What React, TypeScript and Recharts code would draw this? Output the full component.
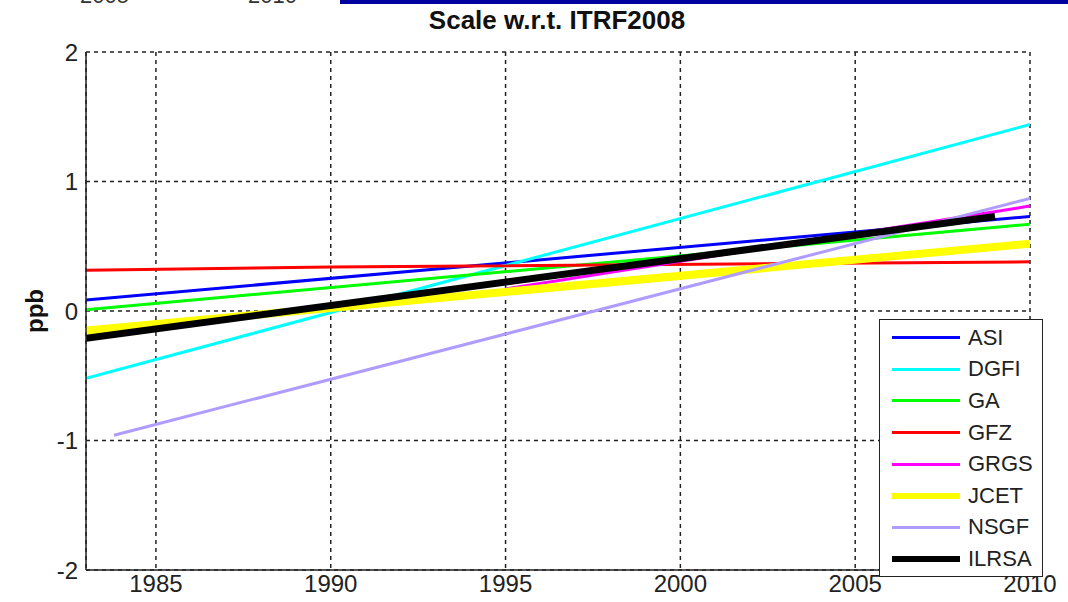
import { CartesianGrid, Legend, Line, LineChart, XAxis, YAxis } from 'recharts';

// year / ppb pairs per analysis centre
const asiYears = [1983, 2010];
const asiPpb = [0.085, 0.73];
const dgfiYears = [1983, 2010];
const dgfiPpb = [-0.52, 1.44];
const gaYears = [1983, 2010];
const gaPpb = [0.01, 0.67];
const gfzYears = [1983, 1990, 2010];
const gfzPpb = [0.315, 0.34, 0.38];
const grgsYears = [1995, 2010];
const grgsPpb = [0.17, 0.81];
const jcetYears = [1983, 2010];
const jcetPpb = [-0.15, 0.52];
const nsgfYears = [1983.8, 2010];
const nsgfPpb = [-0.96, 0.87];
const ilrsaYears = [1983, 2009];
const ilrsaPpb = [-0.21, 0.73];

const xTicks = [1985, 1990, 1995, 2000, 2005, 2010];
const yTicks = [-2, -1, 0, 1, 2];

const pairs = (xs: number[], ys: number[]) => xs.map((x, i) => ({ year: x, ppb: ys[i] }));

const series = [
  { name: 'ASI', color: '#0000ff', width: 3, data: pairs(asiYears, asiPpb) },
  { name: 'DGFI', color: '#00ffff', width: 3, data: pairs(dgfiYears, dgfiPpb) },
  { name: 'GA', color: '#00ff00', width: 3, data: pairs(gaYears, gaPpb) },
  { name: 'GFZ', color: '#ff0000', width: 3, data: pairs(gfzYears, gfzPpb) },
  { name: 'GRGS', color: '#ff00ff', width: 3, data: pairs(grgsYears, grgsPpb) },
  { name: 'JCET', color: '#ffff00', width: 8, data: pairs(jcetYears, jcetPpb) },
  { name: 'NSGF', color: '#b09cff', width: 3, data: pairs(nsgfYears, nsgfPpb) },
  { name: 'ILRSA', color: '#000000', width: 7, data: pairs(ilrsaYears, ilrsaPpb) },
];

const font = '"Liberation Sans", Arial, sans-serif';

const LegendBox = () => (
  <div
    style={{
      width: 164,
      height: 258,
      boxSizing: 'border-box',
      border: '1.5px solid #222',
      background: '#fff',
      paddingTop: 2,
      fontFamily: font,
    }}
  >
    {series.map((s) => (
      <div key={s.name} style={{ display: 'flex', alignItems: 'center', height: 31.6 }}>
        <div
          style={{
            marginLeft: 12,
            width: 68,
            height: s.width > 3 ? 6 : 3,
            background: s.color,
          }}
        />
        <span style={{ marginLeft: 8, fontSize: 22, color: '#222', lineHeight: 1 }}>{s.name}</span>
      </div>
    ))}
  </div>
);

export default function App() {
  return (
    <div style={{ position: 'absolute', left: 0, top: 0, width: 1068, height: 602, background: '#fff', overflow: 'hidden' }}>
      {/* cut-off remains of the panel above */}
      <div style={{ position: 'absolute', left: 340, top: 0, width: 728, height: 4, background: '#0000a0' }} />
      <div style={{ position: 'absolute', left: 80, top: -17, fontFamily: font, fontSize: 22, color: '#333' }}>2005</div>
      <div style={{ position: 'absolute', left: 248, top: -17, fontFamily: font, fontSize: 22, color: '#333' }}>2010</div>

      <div
        style={{
          position: 'absolute',
          left: 0,
          width: 1114,
          top: 5,
          textAlign: 'center',
          fontFamily: font,
          fontWeight: 'bold',
          fontSize: 26,
          color: '#111',
        }}
      >
        Scale w.r.t. ITRF2008
      </div>
      <div
        style={{
          position: 'absolute',
          left: 35,
          top: 311,
          transform: 'translate(-50%, -50%) rotate(-90deg)',
          fontFamily: font,
          fontWeight: 'bold',
          fontSize: 24,
          color: '#111',
        }}
      >
        ppb
      </div>

      <LineChart width={1068} height={602} margin={{ top: 52, right: 38, bottom: 0, left: 0 }} style={{ position: 'absolute', left: 0, top: 0 }}>
        <CartesianGrid stroke="#222" strokeDasharray="4 4" strokeWidth={1.5} />
        <XAxis
          dataKey="year"
          type="number"
          domain={[1983, 2010]}
          ticks={xTicks}
          allowDataOverflow
          height={32}
          tickLine={false}
          tickSize={0}
          tickMargin={5}
          axisLine={{ stroke: '#222', strokeWidth: 1.5 }}
          tick={{ fill: '#222', fontSize: 24, fontFamily: font }}
        />
        <YAxis
          type="number"
          domain={[-2, 2]}
          ticks={yTicks}
          width={86}
          tickLine={false}
          tickSize={0}
          tickMargin={8}
          axisLine={{ stroke: '#222', strokeWidth: 1.5 }}
          tick={{ fill: '#222', fontSize: 24, fontFamily: font }}
        />
        {series.map((s) => (
          <Line
            key={s.name}
            data={s.data}
            dataKey="ppb"
            name={s.name}
            stroke={s.color}
            strokeWidth={s.width}
            dot={false}
            activeDot={false}
            isAnimationActive={false}
          />
        ))}
        <Legend
          layout="horizontal"
          verticalAlign="middle"
          align="center"
          content={() => <LegendBox />}
          wrapperStyle={{ position: 'absolute', left: 879, top: 319, width: 164, height: 258 }}
        />
      </LineChart>
    </div>
  );
}
